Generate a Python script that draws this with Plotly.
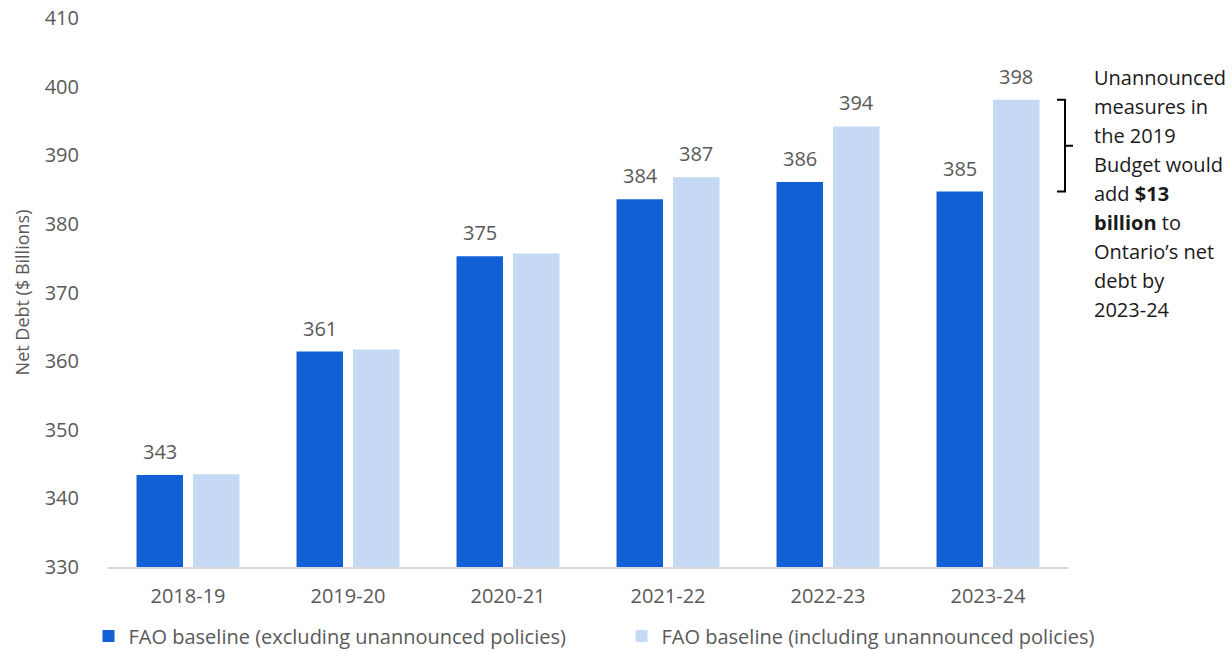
import plotly.graph_objects as go

# Fiscal years and net debt projections ($ billions)
years = ["2018-19", "2019-20", "2020-21", "2021-22", "2022-23", "2023-24"]
excl_unannounced = [343.4, 361.4, 375.3, 383.6, 386.1, 384.7]
incl_unannounced = [343.5, 361.7, 375.7, 386.8, 394.2, 398.1]
# Which bars carry a value label
show_excl = [True, True, True, True, True, True]
show_incl = [False, False, False, True, True, True]

name_excl = "FAO baseline (excluding unannounced policies)"
name_incl = "FAO baseline (including unannounced policies)"

# Side note, one entry per line
note_lines = ["Unannounced", "measures in", "the 2019", "Budget would",
              "add <b>$13</b>", "<b>billion</b> to", "Ontario’s net",
              "debt by", "2023-24"]

DARK = "#1160D6"
LIGHT = "#C5D9F5"
GREY = "#595959"
FONT = "Open Sans"
FS = 20
NOTE_LINE_PX = 29

fig = go.Figure()
fig.add_trace(go.Bar(x=years, y=excl_unannounced, name=name_excl,
                     marker=dict(color=DARK, line=dict(width=0))))
fig.add_trace(go.Bar(x=years, y=incl_unannounced, name=name_incl,
                     marker=dict(color=LIGHT, line=dict(width=0))))

# Value labels above the bars
annotations = []
for yr, v, s in zip(years, excl_unannounced, show_excl):
    if s:
        annotations.append(dict(x=yr, y=v, xref="x", yref="y", text=f"{v:.0f}",
                                showarrow=False, xshift=-28, yshift=8,
                                yanchor="bottom",
                                font=dict(family=FONT, size=FS, color=GREY)))
for yr, v, s in zip(years, incl_unannounced, show_incl):
    if s:
        annotations.append(dict(x=yr, y=v, xref="x", yref="y", text=f"{v:.0f}",
                                showarrow=False, xshift=28, yshift=8,
                                yanchor="bottom",
                                font=dict(family=FONT, size=FS, color=GREY)))

# Side note explaining the gap in the final year
for i, line in enumerate(note_lines):
    annotations.append(dict(
        x=1.025, y=1.0, xref="paper", yref="paper", xanchor="left",
        yanchor="middle", yshift=-59 - i * NOTE_LINE_PX, align="left",
        showarrow=False, text=line,
        font=dict(family=FONT, size=FS, color="#1a1a1a")))

# Bracket spanning the final-year gap
top = incl_unannounced[-1]
bot = excl_unannounced[-1]
mid = (top + bot) / 2
x_in, x_line, x_tip = 0.9885, 0.9969, 1.0052
bracket = (f"M {x_in} {top} L {x_line} {top} L {x_line} {bot} L {x_in} {bot} "
           f"M {x_line} {mid} L {x_tip} {mid}")

fig.update_layout(
    width=1232, height=651,
    margin=dict(l=108, r=164, t=18, b=84, autoexpand=False),
    paper_bgcolor="white", plot_bgcolor="white",
    barmode="group", bargap=0.294, bargroupgap=0.177,
    font=dict(family=FONT, size=FS, color=GREY),
    showlegend=True,
    legend=dict(orientation="h", x=-0.0203, xanchor="left", y=-0.1257,
                yanchor="middle",
                font=dict(family=FONT, size=FS, color=GREY),
                itemwidth=30, traceorder="normal", entrywidth=488),
    xaxis=dict(showline=True, linecolor="#D9D9D9", linewidth=1.5,
               ticks="", showgrid=False, ticklabelstandoff=10,
               tickfont=dict(size=FS, color=GREY)),
    yaxis=dict(range=[330, 410], dtick=10, showgrid=False, zeroline=False,
               showline=False, ticks="", ticklabelstandoff=28,
               tickfont=dict(size=FS, color=GREY),
               title=dict(text="Net Debt ($ Billions)", standoff=10,
                          font=dict(size=18, color=GREY))),
    shapes=[dict(type="path", path=bracket, xref="paper", yref="y",
                 line=dict(color="#000000", width=2))],
    annotations=annotations,
)

fig.write_html("out.html")
